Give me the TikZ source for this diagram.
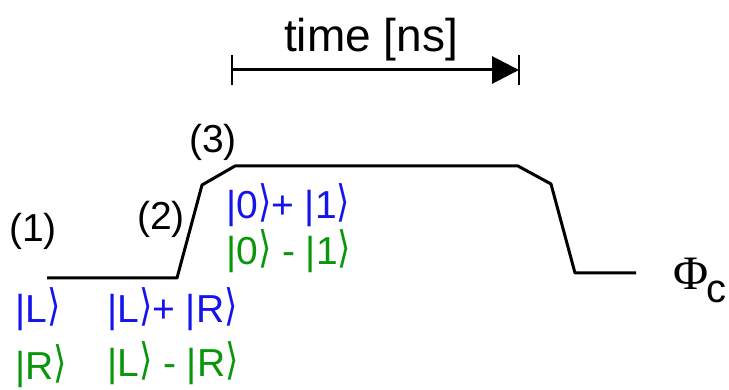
\documentclass[tikz,border=0pt]{standalone}
\usepackage{fontspec}
\setmainfont{Liberation Sans}
\newfontfamily\phifont{Liberation Serif}
\newfontfamily\ketfont{DejaVu Sans}
\usetikzlibrary{arrows.meta}
\definecolor{ketblue}{RGB}{20,20,235}
\definecolor{ketgreen}{RGB}{10,150,10}
% closing ket bracket: a thin angle between baseline and cap height
\newcommand\kr{\raisebox{2pt}{\scalebox{1.1}[1.4]{\fontsize{31}{31}\ketfont
  \iffontchar\font"27E9 ⟩\else\iffontchar\font"232A 〉\else$\rangle$\fi\fi}}}
\begin{document}
\begin{tikzpicture}[x=1pt,y=-1pt,
  lbl/.style={anchor=base west, inner sep=0pt, font=\fontsize{39}{39}\selectfont},
  wave/.style={line width=3pt, line join=round},
  tick/.style={line width=2.5pt}]
\useasboundingbox (0,0) rectangle (729,390);

% control flux pulse
\coordinate (w1) at (47,278);
\coordinate (w2) at (177,278);
\coordinate (w3) at (202,185);
\coordinate (w4) at (235,166);
\coordinate (w5) at (518,166);
\coordinate (w6) at (551,184);
\coordinate (w7) at (575,273);
\coordinate (w8) at (636,273);
\draw[wave] (w1) -- (w2) -- (w3) -- (w4) -- (w5) -- (w6) -- (w7) -- (w8);

% time axis
\coordinate (ta) at (232,70);
\coordinate (tb) at (519,70);
\draw[line width=3pt, -{Triangle[length=27pt,width=27pt]}] (ta) -- (tb);
\draw[tick] (232,55) -- (232,85);
\draw[tick] (519,55) -- (519,85);
\node[anchor=base west, inner sep=0pt, font=\fontsize{46}{46}\selectfont] (time) at (284,52) {time [ns]};

% stage labels
\node[lbl] (s1) at (9,242) {(1)};
\node[lbl] (s2) at (137,230) {(2)};
\node[lbl] (s3) at (189,153) {(3)};

% states
\node[lbl, ketblue]  (kL)  at (15,323) {|L\kr};
\node[lbl, ketgreen] (kR)  at (15,380) {|R\kr};
\node[lbl, ketblue]  (kLp) at (107,323) {|L\kr+ |R\kr};
\node[lbl, ketgreen] (kLm) at (107,377) {|L\kr{} - |R\kr};
\node[lbl, ketblue]  (k0p) at (226,219) {|0\kr+ |1\kr};
\node[lbl, ketgreen] (k0m) at (226,265) {|0\kr{} - |1\kr};

% flux axis label
\node[anchor=base west, inner sep=0pt, font=\phifont\fontsize{48}{48}\selectfont] (phi) at (673,290) {Φ};
\node[anchor=base west, inner sep=0pt, font=\fontsize{40}{40}\selectfont] (phic) at (706,303) {c};
\end{tikzpicture}
\end{document}
